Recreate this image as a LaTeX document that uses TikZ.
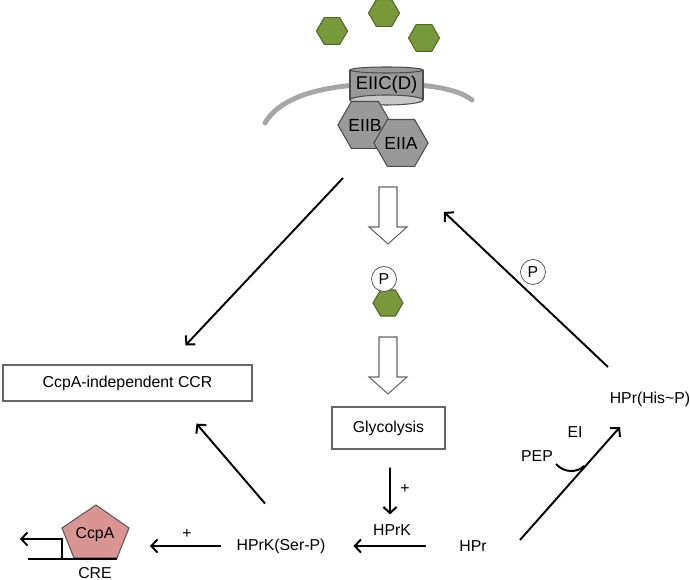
\documentclass[tikz,border=0pt]{standalone}
\usepackage{fontspec}
\setmainfont{Liberation Sans}
\usetikzlibrary{arrows.meta,shapes.geometric,calc}
\definecolor{sugar}{HTML}{78993A}
\definecolor{sugarline}{HTML}{4E6A24}
\definecolor{ptsgray}{HTML}{999999}
\definecolor{ccpapink}{HTML}{DA9592}
\tikzset{
  arr/.style={line width=1.1pt,-{Straight Barb[length=3.5pt,width=7.5pt,line width=1.1pt]}},
  hexa/.style={regular polygon,regular polygon sides=6,draw,inner sep=0pt},
  sugarhex/.style={hexa,fill=sugar,draw=sugarline,line width=0.6pt,minimum size=0.62cm},
  enzhex/.style={hexa,fill=ptsgray,draw=black!70,line width=0.6pt,minimum size=0.86cm,font=\fontsize{10}{12}\selectfont},
  phos/.style={circle,draw=black!70,fill=white,minimum size=0.5cm,inner sep=0pt},
  procbox/.style={draw=black!60,line width=0.8pt,inner sep=0pt},
  hollow/.style={draw=black!60,fill=white,line width=0.6pt,line join=miter}
}

\begin{document}
\begin{tikzpicture}[x=0.02cm,y=-0.02cm,font=\fontsize{9}{11}\selectfont,inner sep=1pt]
\useasboundingbox (0,0) rectangle (690,580);
% sugars outside the cell
\node[sugarhex] (sugA) at (332,31) {};
\node[sugarhex] (sugB) at (384,13) {};
\node[sugarhex] (sugC) at (424,38) {};
% membrane and PTS
\draw[line width=2.8pt,color=black!35,line cap=round] (265,123) .. controls (282,94) and (330,84) .. (386,84) .. controls (430,84) and (458,89) .. (472,100);
\fill[ptsgray] (350,70) rectangle (423,100);
\draw[black!70,line width=0.6pt] (350,70) -- (350,100) (423,70) -- (423,100);
\draw[black!70,fill=black!22,line width=0.6pt] (386.5,100) ellipse [x radius=0.73cm,y radius=0.1cm];
\draw[black!70,fill=ptsgray,line width=0.6pt] (386.5,70) ellipse [x radius=0.73cm,y radius=0.06cm];
\node[font=\fontsize{10.5}{12}\selectfont] (eiic) at (386.5,85) {EIIC(D)};
\node[enzhex] (eiib) at (365,125) {EIIB};
\node[enzhex] (eiia) at (401,143) {EIIA};
% uptake
\foreach \ytop in {187,337}
  \draw[hollow] (379,\ytop) -- ++(18,0) -- ++(0,40) -- ++(10,0) -- ++(-19,17) -- ++(-19,-17) -- ++(10,0) -- cycle;
\node[sugarhex,minimum size=0.6cm] (sugP) at (388,303) {};
\node[phos] (phosA) at (384,279) {P};
% boxes and labels
\node[procbox,minimum width=4.98cm,minimum height=0.72cm] (ccr) at (127.5,383) {CcpA-independent CCR};
\node[procbox,minimum width=2.26cm,minimum height=0.84cm] (glyc) at (388.5,428) {Glycolysis};
\node (hprk) at (392,530) {HPrK};
\node (hpr) at (473,546) {HPr};
\node (hprkser) at (281,546) {HPrK(Ser-P)};
\node (hprhis) at (650,399) {HPr(His\textasciitilde P)};
\node (pep) at (537,456) {PEP};
\node (ei) at (575,432) {EI};
\node[phos] (phosB) at (533,272) {P};
\node (plusA) at (405,489) {+};
\node (plusB) at (187,534) {+};
% CcpA on the CRE
\draw[fill=ccpapink,draw=black!65,line width=0.6pt] (96,505) -- (129,528) -- (117,558) -- (74,558) -- (62,528) -- cycle;
\node (ccpa) at (95,535) {CcpA};
\node (cre) at (95,573) {CRE};
\coordinate (creL) at (28,559);
\coordinate (creR) at (117,559);
\coordinate (tss) at (62,559);
\draw[line width=1.1pt] (creL) -- (creR);
\draw[arr] (tss) -- ++(0,-20) -- ++(-42,0);
% connectors
\coordinate (ptsout) at (343,178);
\coordinate (uptake) at (444,212);
\draw[arr] (ptsout) -- ($(ccr.north)+(58,-19)$);
\draw[arr] ($(hprkser.north)+(-16,-33)$) -- ($(ccr.south)+(69,22)$);
\draw[arr] ($(glyc.south)+(1.5,18)$) -- ($(hprk.north)+(-2,-8)$);
\draw[arr] ($(hpr.west)+(-31,0)$) -- ($(hprkser.east)+(26,0)$);
\draw[arr] ($(hprkser.west)+(-14,0)$) -- ($(ccpa)+(55,11)$);
\draw[arr] ($(hpr)+(47,-6)$) -- ($(hprhis)+(-30,28)$);
\draw[arr] ($(hprhis)+(-42,-32)$) -- (uptake);
\draw[line width=1.1pt] (556,464) .. controls (564,473) and (577,473) .. (584,466);
\end{tikzpicture}
\end{document}
